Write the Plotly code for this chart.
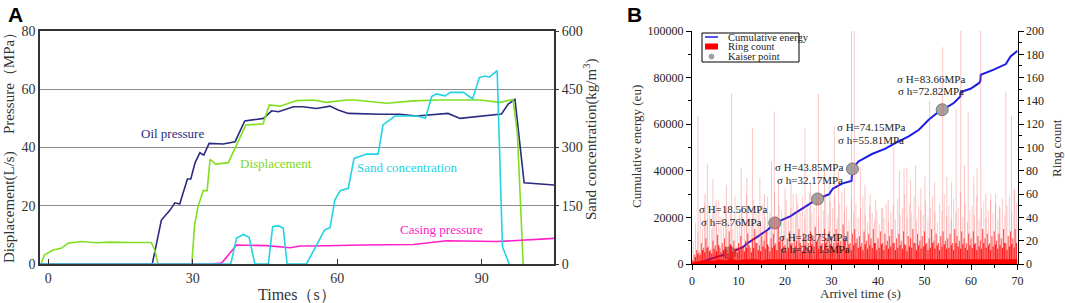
import plotly.graph_objects as go

W, H = 1065, 303
def PX(x): return x / W
def PY(y): return 1 - y / H

SERIF = "Liberation Serif"

# ---------------- Panel A data ----------------
oil_t = [-1.7, 21.6, 23.5, 25.3, 26.3, 27.3, 28.9, 29.6, 30.5, 31.5, 32.3, 33.4, 36.3, 38.8, 40.8,
         44.7, 46.4, 47.8, 50.9, 52.9, 55.7, 58.5, 60.2, 62.3, 68.9, 73, 76.5, 83, 85.5, 91, 94.1,
         95.5, 96.9, 98.8, 105]
oil_v = [0, 0, 15.1, 18.5, 21, 20.6, 29.2, 29.2, 34.8, 38.2, 37.4, 41.4, 41.2, 42, 49.1,
         50, 52.6, 52.3, 54, 54, 53.4, 54.2, 52.9, 51.7, 51.4, 51.4, 50.8, 51.7, 50, 50.8, 51.5,
         54.9, 56.5, 27.9, 27.1]

disp_t = [-1.5, -0.8, 1.0, 2.7, 4.1, 6.9, 10, 12.8, 17.6, 21.4, 22.1, 22.8, 29.8, 30.4, 31.1, 32.2,
          33.0, 33.6, 34.8, 37.4, 41, 44.6, 45.9, 48.1, 51.6, 55, 57.8, 62, 63.6, 70.3, 75.8, 81.3,
          89.6, 93.8, 96.5, 97.4, 98.6]
disp_v = [0, 3.1, 4.8, 5.4, 7.1, 7.7, 7.3, 7.5, 7.4, 7.4, 4.8, 0, 0, 13.4, 19.7, 25.2,
          25.2, 35.9, 34.3, 34.8, 47.7, 48.1, 54.6, 54.2, 56.1, 56.3, 55.5, 56.3, 56.3, 55.2, 56, 56.3,
          56.3, 55.5, 56.5, 44.9, 0]

sand_t = [-1.7, 37.9, 39.1, 40.5, 41.7, 42.9, 45.7, 46.6, 47.8, 48.8, 49.6, 53.6, 57.4, 58.5, 59.5,
          60.6, 62.3, 63.5, 66.1, 68.5, 69.5, 72, 76.5, 78.3, 79.6, 80.6, 82.4, 83.5, 86.2, 88.1,
          89.5, 90.7, 91.6, 93.2, 94.3, 95.7]
sand_s = [0, 0, 67, 76, 69, 0, 0, 96, 98.6, 92, 0, 0, 87.6, 93.5, 164.8,
          188.8, 195, 272, 283, 283, 358, 381, 381, 375, 431, 438, 433, 442, 442, 425,
          480, 484, 481, 498, 44.6, 0]

casing_t = [-1.7, 33.6, 36, 39.1, 45.3, 48.8, 50.2, 52.3, 55, 65.4, 75.8, 82.7, 93.1, 105]
casing_v = [0, 0, 0.3, 6.5, 6.3, 5.7, 5.6, 6.2, 6.2, 6.5, 6.7, 8, 7.7, 8.8]

# ---------------- Panel B data ----------------
energy_t = [0, 1.7, 3.4, 5.6, 8.1, 11.0, 12.0, 14.2, 16.3, 17.8, 21.1, 23.1, 24.9, 27.0, 29.5, 30.3,
            32.4, 34.3, 34.5, 35.8, 38.7, 41.6, 43.7, 46.6, 48.8, 50.9, 52.7, 53.8, 56.3, 57.7, 57.8,
            59.9, 61.7, 62.0, 62.1, 64.9, 67.5, 68.5, 70]
energy_v = [0, 560, 1850, 3300, 4720, 7300, 9000, 11870, 14700, 17600, 20460, 23000, 25300, 27900,
            30000, 32400, 34600, 35600, 40800, 44000, 47200, 49500, 51900, 54800, 57600, 61900, 64800,
            66200, 69100, 71900, 73800, 75200, 77600, 78500, 81200, 83400, 85800, 89100, 91500]

kaiser_t = [8.1, 17.8, 27.0, 34.5, 53.8]
kaiser_e = [4720, 17600, 27900, 40800, 66200]

tall_t = [1.3, 2.8, 3.3, 4.5, 5.2, 7.4, 8.5, 10.6, 11.8, 13.0, 14.6, 15.6, 17.1, 17.7, 18.6, 20.0,
          21.3, 22.5, 24.3, 25.5, 27.2, 28.5, 29.6, 30.6, 31.5, 32.8, 34.3, 34.9, 36.2, 37.2, 38.3,
          39.5, 41.0, 42.2, 43.4, 44.6, 45.6, 46.2, 47.0, 48.1, 49.2, 50.1, 51.1, 52.2, 53.9, 54.8,
          55.8, 56.8, 57.8, 58.6, 59.4, 60.6, 61.3, 62.1, 63.2, 64.2, 65.3, 66.1, 67.5, 68.7, 69.4]
tall_c = [127, 60, 86, 73, 55, 68, 146, 83, 74, 117, 74, 60, 88, 131, 70, 65,
          72, 60, 117, 70, 146, 80, 75, 118, 80, 65, 200, 200, 83, 68, 60,
          55, 48, 55, 100, 80, 82, 83, 72, 85, 65, 75, 140, 70, 186, 75,
          70, 133, 200, 85, 130, 75, 82, 200, 60, 55, 60, 50, 148, 127, 64]

mid_t0, mid_dt = 0.25, 0.5
mid_c = [20, 35, 28, 45, 30, 52, 38, 42, 30, 48, 35, 55, 40, 32, 50, 38, 45, 30, 58, 36,
         42, 50, 35, 60, 40, 38, 55, 45, 48, 36, 52, 40, 58, 44, 38, 62, 42, 50, 46, 40,
         55, 38, 48, 60, 42, 52, 45, 58, 40, 50, 62, 44, 48, 56, 40, 52, 46, 60, 42, 54,
         48, 58, 40, 52, 62, 45, 50, 38, 56, 44, 52, 40, 48, 58, 42, 36, 50, 44, 38, 46,
         34, 48, 40, 52, 36, 45, 50, 38, 56, 42, 48, 60, 40, 52, 44, 58, 38, 50, 46, 42,
         54, 40, 48, 58, 44, 36, 52, 46, 60, 42, 50, 38, 56, 44, 48, 62, 40, 52, 36, 46,
         50, 42, 58, 38, 48, 54, 40, 46, 60, 44, 52, 38, 48, 56, 42, 50, 58, 44, 64, 52]

dense_t0, dense_dt = 0.0, 0.5
dense_c = [4, 8, 12, 10, 18, 14, 22, 15, 12, 20, 16, 25, 14, 18, 22, 12, 28, 16, 20, 14,
           18, 24, 15, 20, 26, 14, 22, 30, 18, 16, 24, 20, 28, 15, 22, 26, 18, 32, 20, 24,
           16, 22, 28, 18, 24, 20, 30, 16, 26, 22, 18, 28, 24, 32, 20, 26, 18, 30, 22, 28,
           24, 18, 30, 26, 20, 34, 22, 28, 18, 26, 30, 22, 24, 18, 28, 20, 26, 22, 30, 18,
           22, 28, 18, 26, 20, 24, 30, 18, 22, 26, 20, 28, 16, 24, 22, 30, 18, 26, 20, 24,
           28, 18, 22, 30, 20, 26, 18, 24, 28, 20, 22, 26, 18, 30, 24, 20, 28, 22, 18, 26,
           22, 28, 18, 24, 20, 30, 22, 26, 18, 24, 28, 20, 26, 22, 30, 18, 24, 28, 22, 30]

dense2_t0, dense2_dt = 0.25, 0.5
dense2_c = [3, 6, 9, 8, 12, 10, 14, 11, 9, 13, 11, 16, 10, 12, 15, 9, 17, 11, 13, 10,
            12, 15, 11, 14, 16, 10, 14, 18, 12, 11, 15, 13, 17, 11, 14, 16, 12, 19, 13, 15,
            11, 14, 17, 12, 15, 13, 18, 11, 16, 14, 12, 17, 15, 19, 13, 16, 12, 18, 14, 17,
            15, 12, 18, 16, 13, 20, 14, 17, 12, 16, 18, 14, 15, 12, 17, 13, 16, 14, 18, 12,
            14, 17, 12, 16, 13, 15, 18, 12, 14, 16, 13, 17, 11, 15, 14, 18, 12, 16, 13, 15,
            17, 12, 14, 18, 13, 16, 12, 15, 17, 13, 14, 16, 12, 18, 15, 13, 17, 14, 12, 16,
            14, 17, 12, 15, 13, 18, 14, 16, 12, 15, 17, 13, 16, 14, 18, 12, 15, 17, 14, 18]

base_c = [1, 2, 3, 3, 3, 3, 4, 3, 4, 4, 3, 4, 4, 4, 4, 3, 4, 4, 4, 4,
          4, 4, 4, 4, 4, 4, 4, 4, 4, 4, 4, 4, 4, 4, 4, 4, 4, 4, 4, 4,
          4, 4, 4, 4, 4, 4, 4, 4, 4, 4, 4, 4, 4, 4, 4, 4, 4, 4, 4, 4,
          4, 4, 4, 4, 4, 4, 4, 4, 4, 4, 4]


def spikes(ts, cs):
    xs, ys = [], []
    for t, c in zip(ts, cs):
        xs += [t, t, None]
        ys += [0, c, None]
    return xs, ys

mid_t = [mid_t0 + i * mid_dt for i in range(len(mid_c))]
dense_t = [dense_t0 + i * dense_dt for i in range(len(dense_c))]
dense2_t = [dense2_t0 + i * dense2_dt for i in range(len(dense2_c))]
base_t = list(range(len(base_c)))

fig = go.Figure()

# Panel A traces
fig.add_trace(go.Scatter(x=oil_t, y=oil_v, mode="lines", line=dict(color="#2b2b80", width=1.6),
                         xaxis="x", yaxis="y", showlegend=False))
fig.add_trace(go.Scatter(x=disp_t, y=disp_v, mode="lines", line=dict(color="#80e020", width=1.6),
                         xaxis="x", yaxis="y", showlegend=False))
fig.add_trace(go.Scatter(x=casing_t, y=casing_v, mode="lines", line=dict(color="#ff20c8", width=1.6),
                         xaxis="x", yaxis="y", showlegend=False))
fig.add_trace(go.Scatter(x=sand_t, y=sand_s, mode="lines", line=dict(color="#22d3e3", width=1.6),
                         xaxis="x", yaxis="y2", showlegend=False))

# Panel B traces
xs, ys = spikes(tall_t, tall_c)
fig.add_trace(go.Scatter(x=xs, y=ys, mode="lines", line=dict(color="rgba(240,90,90,0.35)", width=1),
                         xaxis="x2", yaxis="y4", showlegend=False, hoverinfo="skip"))
xs, ys = spikes(mid_t, mid_c)
fig.add_trace(go.Scatter(x=xs, y=ys, mode="lines", line=dict(color="rgba(255,60,60,0.28)", width=1),
                         xaxis="x2", yaxis="y4", showlegend=False, hoverinfo="skip"))
xs, ys = spikes(dense_t, dense_c)
fig.add_trace(go.Scatter(x=xs, y=ys, mode="lines", line=dict(color="rgba(255,0,0,0.7)", width=1),
                         xaxis="x2", yaxis="y4", showlegend=False, hoverinfo="skip"))
xs, ys = spikes(dense2_t, dense2_c)
fig.add_trace(go.Scatter(x=xs, y=ys, mode="lines", line=dict(color="rgba(255,0,0,0.85)", width=1.2),
                         xaxis="x2", yaxis="y4", showlegend=False, hoverinfo="skip"))
fig.add_trace(go.Scatter(x=base_t, y=base_c, mode="lines", line=dict(color="red", width=0),
                         fill="tozeroy", fillcolor="red",
                         xaxis="x2", yaxis="y4", showlegend=False, hoverinfo="skip"))
fig.add_trace(go.Scatter(x=energy_t, y=energy_v, mode="lines", line=dict(color="#1c1ce6", width=2),
                         xaxis="x2", yaxis="y3", showlegend=False))
fig.add_trace(go.Scatter(x=kaiser_t, y=kaiser_e, mode="markers",
                         marker=dict(color="#a3a3a3", size=12, line=dict(color="#7a7a7a", width=1)),
                         xaxis="x2", yaxis="y3", showlegend=False))

axA = dict(family=SERIF, size=14, color="#333")
axB = dict(family=SERIF, size=12, color="#222")

domA = [PX(40), PX(554)]
domB = [PX(692), PX(1017.5)]
domY = [PY(264), PY(31)]

fig.update_layout(
    width=W, height=H, margin=dict(l=0, r=0, t=0, b=0, pad=0),
    paper_bgcolor="white", plot_bgcolor="white",
    font=dict(family=SERIF),
    xaxis=dict(domain=domA, range=[-1.7, 105], tickvals=[0, 30, 60, 90], ticks="inside", ticklen=5,
               tickcolor="#333", showline=True, mirror=True, linecolor="#333", linewidth=1.5,
               showgrid=False, zeroline=False, tickfont=axA, anchor="y", automargin=False),
    yaxis=dict(domain=domY, range=[0, 80], tickvals=[0, 20, 40, 60, 80], ticks="", showline=True,
               mirror=True, linecolor="#333", linewidth=1.5, showgrid=True, gridcolor="#8c8c8c",
               gridwidth=1, zeroline=False, tickfont=axA, anchor="x", automargin=False),
    yaxis2=dict(overlaying="y", side="right", range=[0, 600], tickvals=[0, 150, 300, 450, 600],
                ticks="outside", ticklen=4, tickcolor="#333", showgrid=False, zeroline=False,
                showline=False, tickfont=axA, anchor="x", automargin=False),
    xaxis2=dict(domain=domB, range=[0, 70], dtick=10, ticks="outside", ticklen=5, tickcolor="black",
                showline=True, linecolor="black", linewidth=1.2, showgrid=False, zeroline=False,
                tickfont=axB, anchor="y3", automargin=False,
                minor=dict(dtick=5, ticks="outside", ticklen=3, tickcolor="black")),
    yaxis3=dict(domain=domY, range=[0, 100000], dtick=20000, tickformat="d", ticks="outside",
                ticklen=5, tickcolor="black", showline=True, linecolor="black", linewidth=1.2,
                showgrid=False, zeroline=False, tickfont=axB, anchor="x2", automargin=False,
                minor=dict(dtick=10000, ticks="outside", ticklen=3, tickcolor="black")),
    yaxis4=dict(overlaying="y3", side="right", range=[0, 200], dtick=20, ticks="outside", ticklen=5,
                tickcolor="black", showline=True, linecolor="black", linewidth=1.2, showgrid=False,
                zeroline=False, tickfont=axB, anchor="x2", automargin=False,
                minor=dict(dtick=10, ticks="outside", ticklen=3, tickcolor="black")),
)

ann = []
def text(x, y, s, size=13, color="#333", angle=0, xanchor="center", family=SERIF, bold=False):
    if bold:
        s = "<b>" + s + "</b>"
    ann.append(dict(x=PX(x), y=PY(y), xref="paper", yref="paper", text=s, showarrow=False,
                    textangle=angle, xanchor=xanchor, yanchor="middle",
                    font=dict(family=family, size=size, color=color)))

# Panel letters
text(15, 14, "A", size=21, color="black", family="Liberation Sans", bold=True)
text(634, 14, "B", size=21, color="black", family="Liberation Sans", bold=True)

# Panel A titles
text(9, 80, "Pressure（MPa）", size=15, angle=-90)
text(9, 207, "Displacement(L/s)", size=15, angle=-90)
text(590, 140, "Sand concentration(kg/m<sup>3</sup>)", size=15, angle=-90)
text(297, 294, "Times（s）", size=16)

# Panel A series labels
text(172, 133, "Oil pressure", size=13, color="#2b2b80")
text(276, 163, "Displacement", size=13, color="#7ad61e")
text(407, 167, "Sand concentration", size=13, color="#22d3e3")
text(441, 229, "Casing pressure", size=13, color="#ff20c8")

# Panel B titles
text(636, 147, "Cumulative energy (eu)", size=13, angle=-90)
text(1056, 148, "Ring count", size=13, angle=-90)
text(860, 293, "Arrivel time (s)", size=13)

# Kaiser labels
kl = [(697, 209, "σ H=18.56MPa"), (699, 222, "σ h=8.76MPa"),
      (777, 237, "σ H=28.75MPa"), (779, 249, "σ h=20. 15MPa"),
      (773, 167, "σ H=43.85MPa"), (775, 180, "σ h=32.17MPa"),
      (835, 127, "σ H=74.15MPa"), (836, 140, "σ h=55.81MPa"),
      (895, 79, "σ H=83.66MPa"), (896, 91, "σ h=72.82MPa")]
for x, y, s in kl:
    text(x, y, s, size=11, color="#222", xanchor="left")

# Legend (manual)
text(726, 37, "Cumulative energy", size=10.5, color="#222", xanchor="left")
text(726, 46.5, "Ring count", size=10.5, color="#222", xanchor="left")
text(726, 56.5, "Kaiser point", size=10.5, color="#222", xanchor="left")

shapes = [
    dict(type="rect", xref="paper", yref="paper", x0=PX(702), x1=PX(799), y0=PY(62), y1=PY(33),
         line=dict(color="black", width=1), fillcolor="white", layer="above"),
    dict(type="line", xref="paper", yref="paper", x0=PX(705), x1=PX(718), y0=PY(37), y1=PY(37),
         line=dict(color="#1c1ce6", width=1.5)),
    dict(type="rect", xref="paper", yref="paper", x0=PX(705), x1=PX(718), y0=PY(49.5), y1=PY(43.5),
         line=dict(width=0), fillcolor="red"),
    dict(type="circle", xref="paper", yref="paper", x0=PX(709), x1=PX(714), y0=PY(59), y1=PY(54),
         line=dict(color="#7a7a7a", width=0.5), fillcolor="#a3a3a3"),
]
fig.update_layout(annotations=ann, shapes=shapes)

fig.write_html("out.html", config={"displayModeBar": False},
               post_script="document.body.style.margin='0';document.body.style.padding='0';")
